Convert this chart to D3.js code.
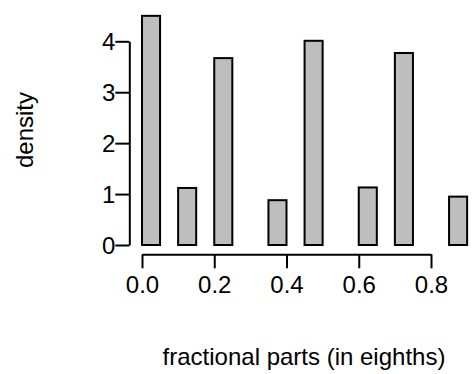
<!DOCTYPE html>
<html>
<head>
<meta charset="utf-8">
<script src="https://cdn.jsdelivr.net/npm/d3@7"></script>
<style>
  html, body { margin: 0; padding: 0; background: #fff; }
  svg { display: block; font-family: "Liberation Sans", Arial, Helvetica, sans-serif; }
</style>
</head>
<body>
<svg id="chart" width="472" height="374"></svg>
<script>
// Histogram of fractional parts, bins of width 0.05 on [0, 0.9]
const binStarts = [0.00, 0.05, 0.10, 0.15, 0.20, 0.25, 0.30, 0.35, 0.40,
                   0.45, 0.50, 0.55, 0.60, 0.65, 0.70, 0.75, 0.80, 0.85];
const binWidth = 0.05;
const densities = [4.50, 0, 1.12, 0, 3.67, 0, 0, 0.88, 0,
                   4.01, 0, 0, 1.13, 0, 3.77, 0, 0, 0.95];
const xTicks = [0.0, 0.2, 0.4, 0.6, 0.8];
const yTicks = [0, 1, 2, 3, 4];
const xTitle = "fractional parts (in eighths)";
const yTitle = "density";

const svg = d3.select("#chart");
const fontSize = 24;
const lw = 2;

const x = d3.scaleLinear().domain([0, 0.8]).range([142, 431]);
const y = d3.scaleLinear().domain([0, 4]).range([245, 41.3]);

// bars
svg.append("g")
  .selectAll("rect")
  .data(binStarts.map((s, i) => ({ s, d: densities[i] })))
  .join("rect")
  .attr("x", d => x(d.s))
  .attr("width", d => x(d.s + binWidth) - x(d.s))
  .attr("y", d => y(d.d))
  .attr("height", d => y(0) - y(d.d))
  .attr("fill", "#bebebe")
  .attr("stroke", "#000")
  .attr("stroke-width", lw);

// x axis, detached below the bars
const xAxis = svg.append("g")
  .attr("transform", `translate(0,254.3)`)
  .call(d3.axisBottom(x).tickValues(xTicks).tickFormat(d3.format(".1f"))
    .tickSize(14).tickSizeOuter(0).tickPadding(8));
// y axis, detached to the left
const yAxis = svg.append("g")
  .attr("transform", `translate(129.3,0)`)
  .call(d3.axisLeft(y).tickValues(yTicks).tickFormat(d3.format("d"))
    .tickSize(14).tickSizeOuter(0).tickPadding(0));

[xAxis, yAxis].forEach(g => {
  g.select(".domain").attr("stroke", "#000").attr("stroke-width", lw);
  g.selectAll(".tick line").attr("stroke", "#000").attr("stroke-width", lw);
  g.selectAll(".tick text").attr("fill", "#000")
    .attr("font-size", fontSize).attr("font-family", null);
});
yAxis.selectAll(".tick text").attr("dy", "0.36em");

// axis titles
svg.append("text")
  .attr("x", 304).attr("y", 365)
  .attr("text-anchor", "middle")
  .attr("font-size", fontSize)
  .attr("fill", "#000")
  .text(xTitle);

svg.append("text")
  .attr("transform", "translate(33,130) rotate(-90)")
  .attr("text-anchor", "middle")
  .attr("font-size", fontSize)
  .attr("fill", "#000")
  .text(yTitle);
</script>
</body>
</html>
